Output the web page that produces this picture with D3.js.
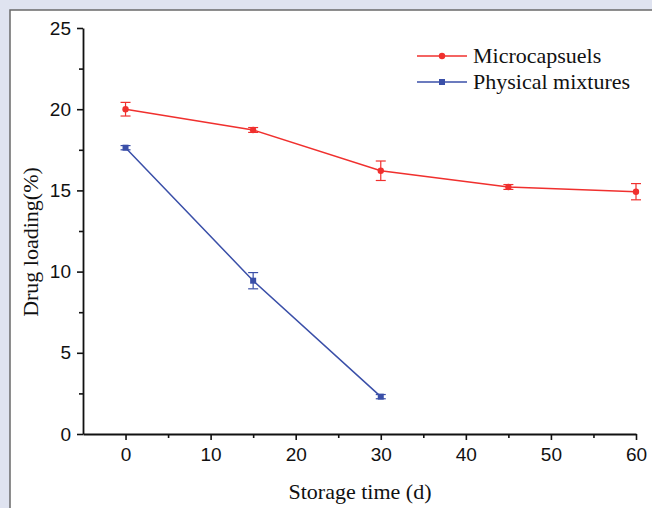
<!DOCTYPE html>
<html><head><meta charset="utf-8">
<script src="https://cdn.jsdelivr.net/npm/d3@7"></script>
<style>body{margin:0;background:#dfe3f0;} svg{display:block;}</style>
</head><body><svg id="c" width="652" height="508"></svg>
<script>
const days = [0, 15, 30, 45, 60];
const microValues = [20.0, 18.72, 16.21, 15.21, 14.92];
const microErrors = [0.42, 0.15, 0.6, 0.15, 0.5];
const physDays = [0, 15, 30];
const physValues = [17.63, 9.44, 2.30];
const physErrors = [0.13, 0.5, 0.13];
const xTicks = [0, 10, 20, 30, 40, 50, 60];
const yTicks = [0, 5, 10, 15, 20, 25];
const seriesNames = ["Microcapsuels", "Physical mixtures"];

const svg = d3.select("#c");
svg.append("rect").attr("x",10).attr("y",10).attr("width",660).attr("height",520)
  .attr("fill","#fff").attr("stroke","#6a6a6a").attr("stroke-width",1.5);

const x = d3.scaleLinear().domain([-5, 60]).range([83, 636]);
const y = d3.scaleLinear().domain([0, 25]).range([434, 28]);

const axisColor = "#111";
// y axis
const gy = svg.append("g").attr("transform","translate(83,0)");
gy.call(d3.axisLeft(y).tickValues(yTicks).tickSize(6).tickSizeOuter(0).tickPadding(6));
gy.append("g").call(d3.axisLeft(y).tickValues(d3.range(2.5,25,5)).tickSize(4).tickFormat(""))
  .select(".domain").remove();
// x axis
const gx = svg.append("g").attr("transform","translate(0,434)");
gx.call(d3.axisBottom(x).tickValues(xTicks).tickSize(6).tickSizeOuter(0).tickPadding(8));
gx.append("g").call(d3.axisBottom(x).tickValues(d3.range(5,60,10)).tickSize(4).tickFormat(""))
  .select(".domain").remove();
svg.selectAll(".tick line").attr("stroke",axisColor).attr("stroke-width",1.6);
svg.selectAll(".domain").attr("stroke",axisColor).attr("stroke-width",1.8);
svg.selectAll(".tick text").attr("font-family","Liberation Sans, Arial, sans-serif")
  .attr("font-size",19).attr("fill","#111");

// titles
svg.append("text").attr("x",360).attr("y",499).attr("text-anchor","middle")
  .attr("font-family","Liberation Serif, Times New Roman, serif").attr("font-size",22).attr("fill","#111")
  .text("Storage time (d)");
svg.append("text").attr("transform","translate(38,242) rotate(-90)").attr("text-anchor","middle")
  .attr("font-family","Liberation Serif, Times New Roman, serif").attr("font-size",22).attr("fill","#111")
  .text("Drug loading(%)");

const red = "#f0302e", blue = "#3a4fa8";
function drawSeries(xs, vs, es, color, marker){
  const data = xs.map((d,i)=>({x:d, v:vs[i], e:es[i]}));
  const line = d3.line().x(d=>x(d.x)).y(d=>y(d.v));
  svg.append("path").datum(data).attr("d",line).attr("fill","none")
    .attr("stroke",color).attr("stroke-width",1.5);
  const g = svg.append("g");
  data.forEach(d=>{
    const cx = x(d.x), y1 = y(d.v + d.e), y2 = y(d.v - d.e);
    g.append("line").attr("x1",cx).attr("x2",cx).attr("y1",y1).attr("y2",y2).attr("stroke",color).attr("stroke-width",1.2);
    g.append("line").attr("x1",cx-5).attr("x2",cx+5).attr("y1",y1).attr("y2",y1).attr("stroke",color).attr("stroke-width",1.2);
    g.append("line").attr("x1",cx-5).attr("x2",cx+5).attr("y1",y2).attr("y2",y2).attr("stroke",color).attr("stroke-width",1.2);
    if(marker==="circle") g.append("circle").attr("cx",cx).attr("cy",y(d.v)).attr("r",3.2).attr("fill",color);
    else g.append("rect").attr("x",cx-3).attr("y",y(d.v)-3).attr("width",6).attr("height",6).attr("fill",color);
  });
}
drawSeries(days, microValues, microErrors, red, "circle");
drawSeries(physDays, physValues, physErrors, blue, "square");

// legend
const leg = [{n:seriesNames[0], c:red, m:"circle", y:56},{n:seriesNames[1], c:blue, m:"square", y:82}];
leg.forEach(l=>{
  svg.append("line").attr("x1",417).attr("x2",467).attr("y1",l.y).attr("y2",l.y).attr("stroke",l.c).attr("stroke-width",1.5);
  if(l.m==="circle") svg.append("circle").attr("cx",442).attr("cy",l.y).attr("r",3.2).attr("fill",l.c);
  else svg.append("rect").attr("x",439).attr("y",l.y-3).attr("width",6).attr("height",6).attr("fill",l.c);
  svg.append("text").attr("x",473).attr("y",l.y+7).attr("font-family","Liberation Serif, Times New Roman, serif")
    .attr("font-size",22).attr("fill","#111").text(l.n);
});
</script></body></html>
